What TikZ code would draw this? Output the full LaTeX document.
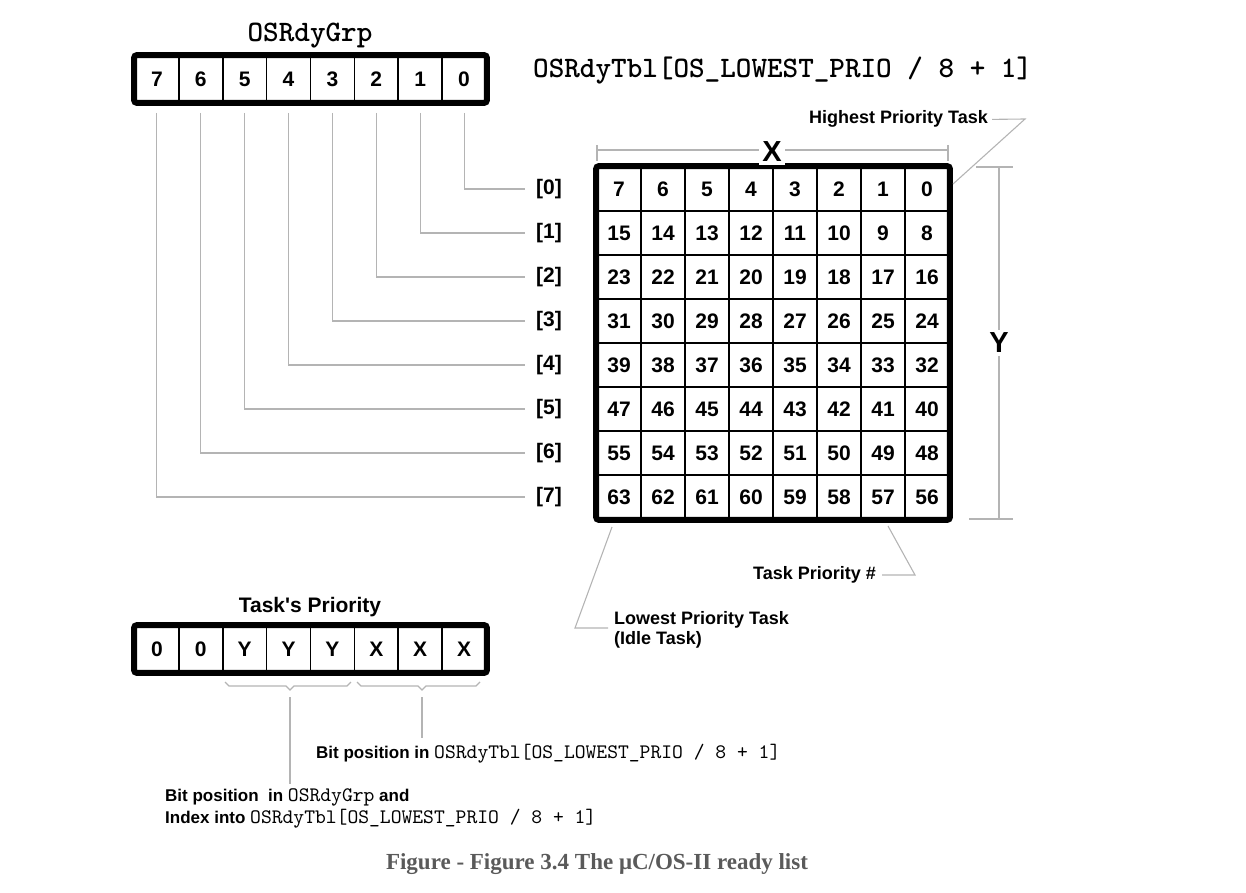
\documentclass[tikz,border=0pt]{standalone}
\usepackage{fontspec}
\setmainfont{Liberation Sans}
\newfontfamily\plainsans{Liberation Sans}
\newfontfamily\monobold{lmmonolt10-bold.otf}
\newfontfamily\monoreg{lmmono10-regular.otf}
\newfontfamily\seriff{Liberation Serif}
\definecolor{lgray}{HTML}{B4B4B4}
\definecolor{capgray}{HTML}{5A5A5A}
\begin{document}
\begin{tikzpicture}[x=1pt,y=-1pt,
  gl/.style={draw=lgray,line width=1.1pt},
  cellbox/.style={draw,line width=1.6pt,inner sep=0pt,font=\fontsize{21}{24}\selectfont\bfseries},
  regcell/.style={cellbox,minimum width=43.875pt,minimum height=46pt},
  tblcell/.style={cellbox,minimum width=44pt,minimum height=44pt},
  frame/.style={line width=6pt,rounded corners=2.5pt},
  rowlbl/.style={inner sep=0pt,font=\fontsize{21}{24}\selectfont\bfseries},
  lbl/.style={inner sep=0pt,font=\fontsize{18}{20}\selectfont\bfseries},
  dimlbl/.style={inner sep=3pt,fill=white,font=\fontsize{29}{32}\selectfont\bfseries},
  titlemono/.style={inner sep=0pt,font=\monobold\fontsize{29.7}{32}\selectfont},
  btext/.style={inner sep=0pt,align=left}
]
\useasboundingbox (0,0) rectangle (1246,893);

% ---------- OSRdyGrp register ----------
\node[titlemono,anchor=base] (grpT) at (310,42) {OSRdyGrp};
\foreach \b in {0,...,7} {
  \pgfmathsetmacro{\cx}{135+43.875*(7-\b+0.5)}
  \node[regcell] (g\b) at (\cx,79) {\b};
}
\draw[frame] (g7.north west) rectangle (g0.south east);

% ---------- OSRdyTbl ----------
\node[titlemono,anchor=base west] (tblT) at (533,78) {OSRdyTbl[OS\_LOWEST\_PRIO / 8 + 1]};
\foreach \r in {0,...,7} {
  \foreach \c in {0,...,7} {
    \pgfmathtruncatemacro{\v}{8*\r+7-\c}
    \pgfmathsetmacro{\cx}{597+44*(\c+0.5)}
    \pgfmathsetmacro{\cy}{167+44*(\r+0.5)}
    \node[tblcell] (t-\r-\c) at (\cx,\cy) {\v};
  }
  \pgfmathsetmacro{\ry}{167+44*(\r+0.5)}
  \node[rowlbl] (r\r) at (549,\ry) {[\r]};
}
\draw[frame] (t-0-0.north west) rectangle (t-7-7.south east);

% bit lines from OSRdyGrp to row labels
\foreach \b in {0,...,7} {
  \draw[gl] ([yshift=-10pt]g\b.south) |- ([xshift=-11pt]r\b.west);
}

% ---------- X dimension ----------
\coordinate (xl) at (597,150);
\coordinate (xr) at (948,150);
\draw[gl] (xl) -- (xr);
\draw[gl] ([yshift=5pt]xl) -- ([yshift=-11pt]xl);
\draw[gl] ([yshift=5pt]xr) -- ([yshift=-11pt]xr);
\node[dimlbl] (X) at (772,152) {X};

% ---------- Y dimension ----------
\coordinate (yt) at (999,167);
\coordinate (yb) at (999,519);
\draw[gl] (yt) -- (yb);
\draw[gl] ([xshift=-23pt]yt) -- ([xshift=14pt]yt);
\draw[gl] ([xshift=-30pt]yb) -- ([xshift=14pt]yb);
\node[dimlbl] (Y) at (999,343) {Y};

% ---------- annotations ----------
\node[lbl,anchor=base east] (hp) at (988,124) {Highest Priority Task};
\coordinate (hpk) at (1025,119);
\coordinate (hpend) at (953,184);
\draw[gl] ([xshift=4pt]hp.east) -- (hpk) -- (hpend);

\node[lbl,anchor=east] (tp) at (876,575) {Task Priority \#};
\coordinate (tpk) at (915,575);
\coordinate (tpend) at (888,526);
\draw[gl] ([xshift=6pt]tp.east) -- (tpk) -- (tpend);

\node[lbl,anchor=north west,align=left] (lp) at (614,611) {Lowest Priority Task\\(Idle Task)};
\coordinate (lpend) at (612,527);
\coordinate (lpk) at (575,628);
\coordinate (lpe) at (608,628);
\draw[gl] (lpend) -- (lpk) -- (lpe);

% ---------- Task's Priority register ----------
\node[inner sep=0pt,font=\plainsans\fontsize{21}{24}\selectfont\bfseries,anchor=base] (tpT) at (310,612) {Task's Priority};
\foreach \v [count=\c from 0] in {0,0,Y,Y,Y,X,X,X} {
  \pgfmathsetmacro{\cx}{135+43.875*(\c+0.5)}
  \node[regcell] (p\c) at (\cx,649) {\v};
}
\draw[frame] (p0.north west) rectangle (p7.south east);

% braces
\coordinate (ytip) at (290,690);
\coordinate (xtip) at (422,690);
\draw[gl] (225,682) -- (229,686) -- (286,686) -- (ytip) -- (294,686) -- (347,686) -- (351,682);
\draw[gl] (357,682) -- (361,686) -- (418,686) -- (xtip) -- (426,686) -- (476,686) -- (480,682);
\coordinate (yend) at (290,784);
\coordinate (xend) at (422,738);
\draw[gl] ([yshift=-7pt]ytip) -- (yend);
\draw[gl] ([yshift=-7pt]xtip) -- (xend);

% bottom texts
\node[btext,anchor=base west] (bt1) at (316,758)
  {{\bfseries\fontsize{17}{20}\selectfont Bit position in }{\monoreg\fontsize{20.6}{22}\selectfont OSRdyTbl[OS\_LOWEST\_PRIO / 8 + 1]}};
\node[btext,anchor=base west] (bt2) at (165,801)
  {{\bfseries\fontsize{17}{20}\selectfont Bit position~ in }{\monoreg\fontsize{20.6}{22}\selectfont OSRdyGrp}{\bfseries\fontsize{17}{20}\selectfont{} and}};
\node[btext,anchor=base west] (bt3) at (165,823)
  {{\bfseries\fontsize{17}{20}\selectfont Index into }{\monoreg\fontsize{20.6}{22}\selectfont OSRdyTbl[OS\_LOWEST\_PRIO / 8 + 1]}};

% caption
\node[inner sep=0pt,anchor=base,text=capgray,font=\seriff\bfseries\fontsize{23}{26}\selectfont] (cap) at (597,869) {Figure - Figure 3.4 The μC/OS-II ready list};
\end{tikzpicture}
\end{document}
